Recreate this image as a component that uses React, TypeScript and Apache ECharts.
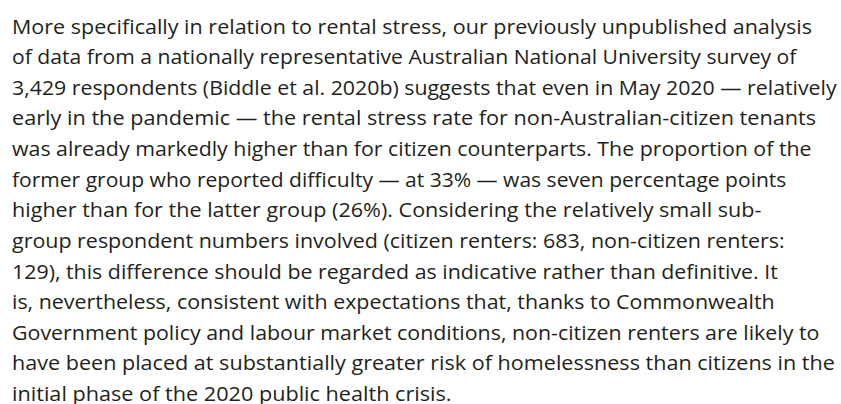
import React, { useEffect, useRef } from "react";
import * as echarts from "echarts";

const lines: string[] = [
  "More specifically in relation to rental stress, our previously unpublished analysis",
  "of data from a nationally representative Australian National University survey of",
  "3,429 respondents (Biddle et al. 2020b) suggests that even in May 2020 — relatively",
  "early in the pandemic — the rental stress rate for non-Australian-citizen tenants",
  "was already markedly higher than for citizen counterparts. The proportion of the",
  "former group who reported difficulty — at 33% — was seven percentage points",
  "higher than for the latter group (26%). Considering the relatively small sub-",
  "group respondent numbers involved (citizen renters: 683, non-citizen renters:",
  "129), this difference should be regarded as indicative rather than definitive. It",
  "is, nevertheless, consistent with expectations that, thanks to Commonwealth",
  "Government policy and labour market conditions, non-citizen renters are likely to",
  "have been placed at substantially greater risk of homelessness than citizens in the",
  "initial phase of the 2020 public health crisis.",
];

// layout: right edge (px) of each rendered line, to mimic the original typeface's widths
const lineRight: number[] = [812, 797, 837, 817, 812, 787, 762, 785, 778, 775, 820, 835, 452];

const FONT = "20px 'Open Sans'";

function measure(t: string): number {
  const c = document.createElement("canvas").getContext("2d");
  if (!c) return t.length * 10;
  c.font = FONT;
  return c.measureText(t).width;
}

export default function App() {
  const ref = useRef<HTMLDivElement>(null);
  useEffect(() => {
    if (!ref.current) return;
    const chart = echarts.init(ref.current, null, { renderer: "svg" });
    const left = 12;
    const firstMid = 26;
    const step = 30.6;
    chart.setOption({
      animation: false,
      backgroundColor: "#ffffff",
      graphic: lines.map((t, i) => {
        const w = measure(t);
        const sx = Math.min(1.2, Math.max(0.9, (lineRight[i] - left) / w));
        return {
          type: "text",
          x: left,
          y: firstMid + i * step,
          scaleX: sx,
          style: {
            text: t,
            font: FONT,
            fill: "#231f20",
            verticalAlign: "middle",
          },
        };
      }),
    });
    return () => chart.dispose();
  }, []);
  return (
    <div
      ref={ref}
      style={{ position: "fixed", left: 0, top: 0, width: 841, height: 404 }}
    />
  );
}
